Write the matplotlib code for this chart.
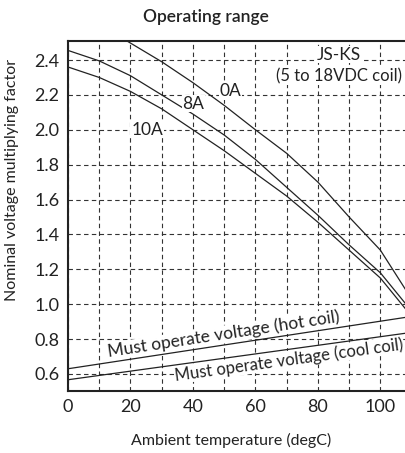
import matplotlib
matplotlib.use("Agg")
import matplotlib.pyplot as plt
import numpy as np

plt.rcParams["font.family"] = ["Lato", "DejaVu Sans"]

# Datos
temp_0a = [18.8, 30, 40, 50, 60, 70, 80, 90, 100, 108.2]
factor_0a = [2.51, 2.39, 2.27, 2.14, 2.00, 1.865, 1.70, 1.50, 1.31, 1.08]

temp_a = [0, 10, 20, 30, 40, 50, 60, 70, 80, 90, 100, 108.2]
factor_8a = [2.455, 2.395, 2.31, 2.20, 2.09, 1.97, 1.83, 1.67, 1.51, 1.34, 1.18, 1.00]
factor_10a = [2.36, 2.30, 2.22, 2.12, 2.00, 1.88, 1.75, 1.62, 1.47, 1.31, 1.15, 0.97]

temp_coil = [0, 108.2]
hot_coil = [0.63, 0.925]
cool_coil = [0.567, 0.834]

x_ticks = [0, 20, 40, 60, 80, 100]
y_ticks = [0.6, 0.8, 1.0, 1.2, 1.4, 1.6, 1.8, 2.0, 2.2, 2.4]

fig = plt.figure(figsize=(4.06, 4.53), dpi=100)
ax = fig.add_axes([68 / 406, 62 / 453, 338 / 406, 350 / 453])
ax.set_xlim(0, 108.2)
ax.set_ylim(0.5025, 2.509)

# Rejilla punteada
ax.set_xticks(x_ticks)
ax.set_xticks(np.arange(10, 110, 20), minor=True)
ax.set_yticks(y_ticks)
ax.set_yticklabels([f"{v:.1f}" for v in y_ticks])
ax.grid(True, which="both", color="#333333", linestyle=(0, (4, 3)), linewidth=0.8)
ax.tick_params(which="both", length=0, labelsize=13, pad=6, colors="#222222")

for lado in ["left", "bottom", "top"]:
    ax.spines[lado].set_linewidth(1.5)
    ax.spines[lado].set_color("#222222")
ax.spines["right"].set_visible(False)

# Curvas
kw = dict(color="#222222", linewidth=0.9)
ax.plot(temp_0a, factor_0a, **kw)
ax.plot(temp_a, factor_8a, **kw)
ax.plot(temp_a, factor_10a, **kw)
ax.plot(temp_coil, hot_coil, **kw)
ax.plot(temp_coil, cool_coil, **kw)

# Etiquetas de curvas (con fondo blanco que tapa la rejilla)
fondo = dict(facecolor="white", edgecolor="none", pad=0.5)
ax.text(52, 2.22, "0A", fontsize=12.5, ha="center", va="center", color="#222222",
        bbox=fondo)
ax.text(40.1, 2.15, "8A", fontsize=12.5, ha="center", va="center", color="#222222",
        bbox=fondo)
ax.text(25.3, 2.0, "10A", fontsize=12.5, ha="center", va="center", color="#222222",
        bbox=fondo)
ax.text(86.6, 2.43, "JS-KS", fontsize=12.5, ha="center", va="center", color="#222222",
        bbox=fondo)
ax.text(86.8, 2.309, "(5 to 18VDC coil)", fontsize=12, ha="center", va="center",
        color="#222222", bbox=fondo)


def angulo(xs, ys):
    p = ax.transData.transform(np.column_stack([xs, ys]))
    return np.degrees(np.arctan2(p[1, 1] - p[0, 1], p[1, 0] - p[0, 0]))


x_hot = 50.2
y_hot = np.interp(x_hot, temp_coil, hot_coil)
ax.text(x_hot, y_hot + 0.012, "Must operate voltage (hot coil)", fontsize=12.5,
        ha="center", va="bottom", rotation=angulo(temp_coil, hot_coil),
        rotation_mode="anchor", color="#222222", bbox=fondo)

x_cool = 70.4
y_cool = np.interp(x_cool, temp_coil, cool_coil)
ax.text(x_cool, y_cool - 0.012, "Must operate voltage (cool coil)", fontsize=12,
        ha="center", va="top", rotation=angulo(temp_coil, cool_coil),
        rotation_mode="anchor", color="#222222", bbox=fondo)

ax.set_xlabel("Ambient temperature (degC)", fontsize=11.5, color="#222222")
ax.set_ylabel("Nominal voltage multiplying factor", fontsize=11.5, color="#222222")
ax.xaxis.set_label_coords(0.482, -0.12)
ax.yaxis.set_label_coords(-0.145, 0.603)

fig.text(206 / 406, 1 - 17 / 453, "Operating range", fontsize=12.5, ha="center",
         va="center", fontweight="semibold", color="#222222")

fig.savefig("out.png", dpi=100)
plt.close(fig)
